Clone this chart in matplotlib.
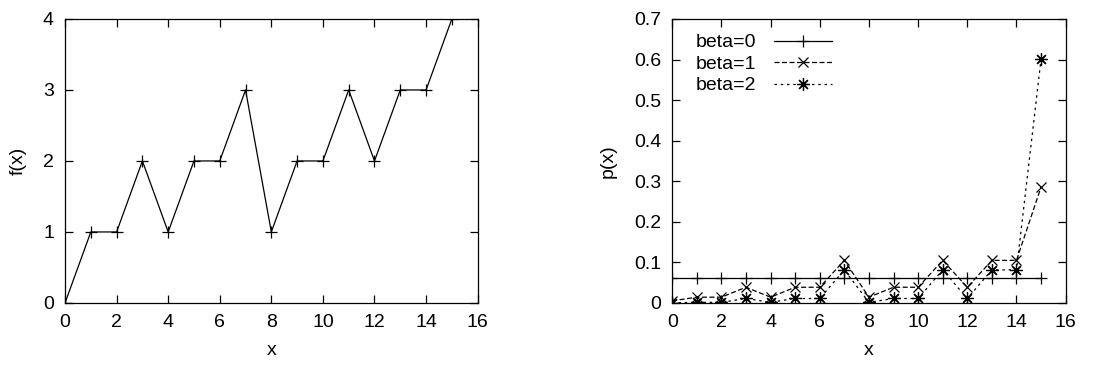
import matplotlib
matplotlib.use("Agg")
from matplotlib import pyplot as plt

plt.rcParams['font.family'] = ['Liberation Sans', 'DejaVu Sans']

x = list(range(16))
f_x = [0, 1, 1, 2, 1, 2, 2, 3, 1, 2, 2, 3, 2, 3, 3, 4]

p_beta0 = [0.0625] * 16
p_beta1 = [0.0052, 0.0142, 0.0142, 0.0387, 0.0142, 0.0387, 0.0387, 0.105,
           0.0142, 0.0387, 0.0387, 0.105, 0.0387, 0.105, 0.105, 0.286]
p_beta2 = [0.0002, 0.0015, 0.0015, 0.011, 0.0015, 0.011, 0.011, 0.0815,
           0.0015, 0.011, 0.011, 0.0815, 0.011, 0.0815, 0.0815, 0.602]

fig = plt.figure(figsize=(10.93, 3.65), dpi=100)
ax1 = fig.add_axes([0.0595, 0.170, 0.3775, 0.778])
ax2 = fig.add_axes([0.615, 0.170, 0.360, 0.778])

fs = 14

def style(ax):
    ax.tick_params(direction='in', top=True, right=True, length=6, width=0.9,
                   labelsize=fs)
    ax.tick_params(axis='x', pad=8)
    ax.tick_params(axis='y', pad=8)
    for s in ax.spines.values():
        s.set_linewidth(0.9)

ax1.plot(x, f_x, color='black', lw=0.9, marker='+', ms=9, mew=0.9)
ax1.set_xlim(0, 16)
ax1.set_ylim(0, 4)
ax1.set_xticks(range(0, 17, 2))
ax1.set_yticks(range(0, 5))
ax1.set_xlabel('x', fontsize=fs, labelpad=8)
ax1.set_ylabel('f(x)', fontsize=fs, labelpad=12)
style(ax1)

ax2.plot(x, p_beta0, color='black', lw=0.9, marker='+', ms=9, mew=0.9, label='beta=0')
ax2.plot(x, p_beta1, color='black', lw=0.9, ls=(0, (4, 2)), marker='x', ms=7, mew=0.9, label='beta=1')
ax2.plot(x, p_beta2, color='black', lw=0.9, ls=(0, (2, 3)), marker=(8, 2, 0), ms=9, mew=0.9, label='beta=2')
ax2.set_xlim(0, 16)
ax2.set_ylim(0, 0.7)
ax2.set_xticks(range(0, 17, 2))
ax2.set_yticks([0, 0.1, 0.2, 0.3, 0.4, 0.5, 0.6, 0.7])
ax2.set_yticklabels(['0', '0.1', '0.2', '0.3', '0.4', '0.5', '0.6', '0.7'])
ax2.set_xlabel('x', fontsize=fs, labelpad=8)
ax2.set_ylabel('p(x)', fontsize=fs, labelpad=12)
style(ax2)
ax2.legend(loc='upper left', frameon=False, markerfirst=False, fontsize=fs,
           handlelength=3.0, handletextpad=0.9, labelspacing=0.2,
           borderaxespad=0.0, bbox_to_anchor=(0.04, 0.975))

fig.savefig('out.png', dpi=100)
